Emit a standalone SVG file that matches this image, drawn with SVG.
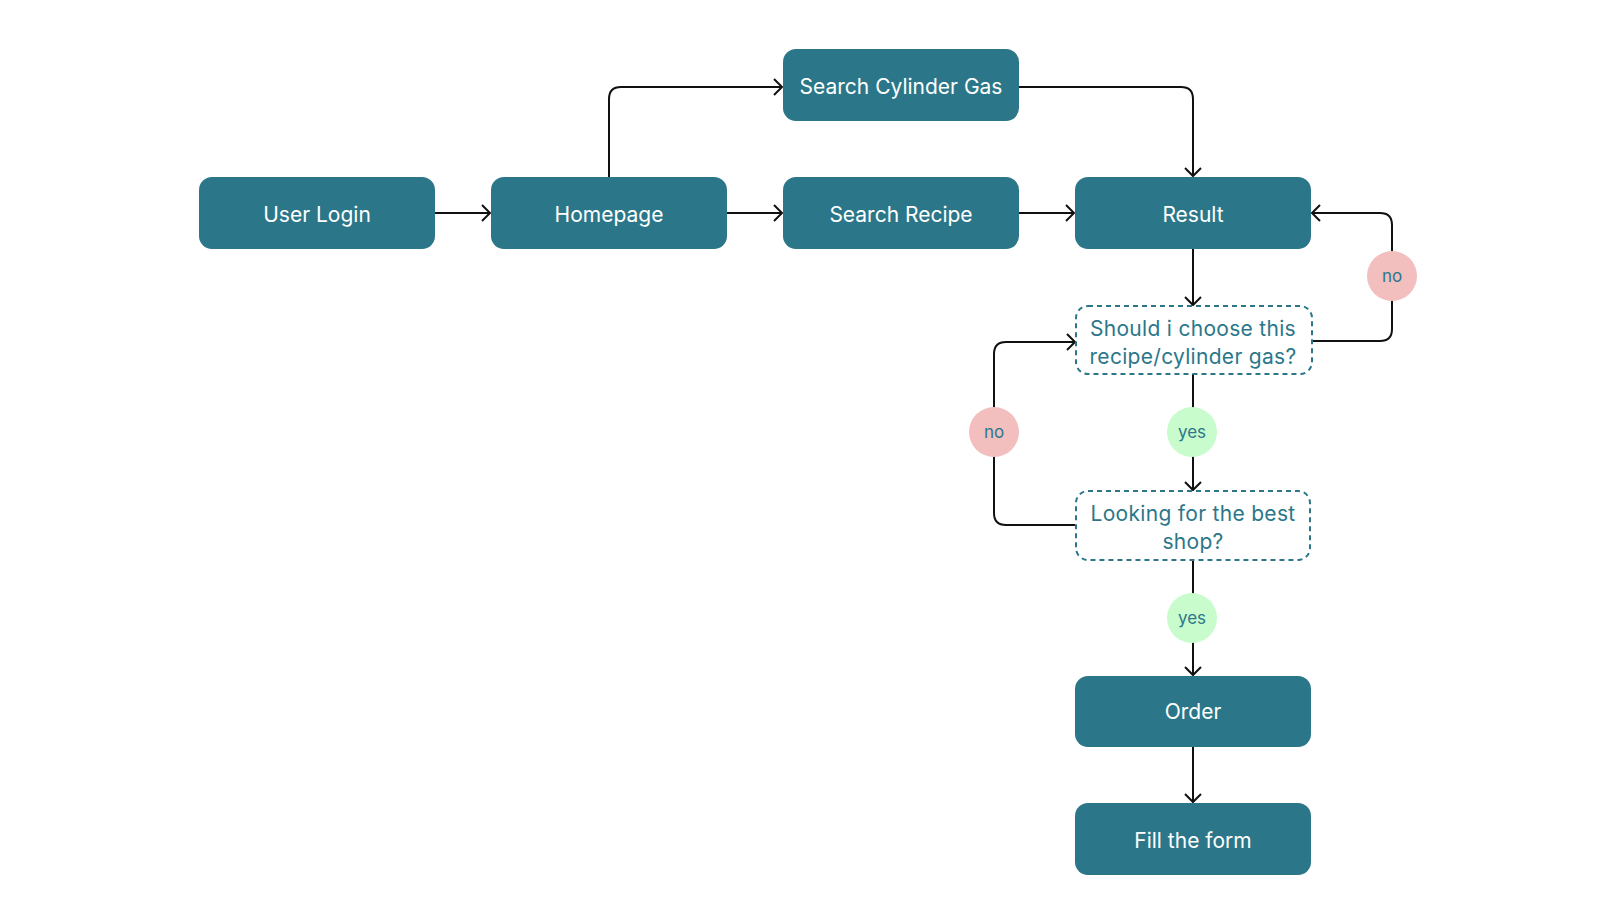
<svg xmlns="http://www.w3.org/2000/svg" width="1616" height="923" viewBox="0 0 1616 923">
<defs>
<marker id="arr" markerUnits="userSpaceOnUse" viewBox="-10 -10 12 20" refX="0" refY="0" markerWidth="12" markerHeight="20" orient="auto">
<path d="M-8,-8 L0,0 L-8,8" fill="none" stroke="#111" stroke-width="2" stroke-linejoin="miter"/>
</marker>
</defs>
<style>
.box{fill:#2B7789;}
.btxt{fill:#ffffff;font-family:Inter,"Liberation Sans",sans-serif;font-size:21px;text-anchor:middle;dominant-baseline:central;}
.dec{fill:#ffffff;stroke:#2B7789;stroke-width:2;stroke-dasharray:5 4;}
.dtxt{fill:#2B7789;font-family:Inter,"Liberation Sans",sans-serif;font-size:21px;letter-spacing:0.3px;text-anchor:middle;dominant-baseline:central;}
.ltxt{fill:#2B7789;font-family:Inter,"Liberation Sans",sans-serif;font-size:17px;text-anchor:middle;dominant-baseline:central;}
.no{fill:#F2BEBE;}
.yes{fill:#C9FCCC;}
.c{fill:none;stroke:#111;stroke-width:2;}
</style>
<rect width="1616" height="923" fill="#ffffff"/>
<g id="connectors">
<path class="c" d="M435,213 H490" marker-end="url(#arr)"/>
<path class="c" d="M727,213 H782" marker-end="url(#arr)"/>
<path class="c" d="M1019,213 H1074" marker-end="url(#arr)"/>
<path class="c" d="M609,177 V99 Q609,87 621,87 H782" marker-end="url(#arr)"/>
<path class="c" d="M1019,87 H1181 Q1193,87 1193,99 V176" marker-end="url(#arr)"/>
<path class="c" d="M1193,249 V305" marker-end="url(#arr)"/>
<path class="c" d="M1312,341 H1380 Q1392,341 1392,329 V225 Q1392,213 1380,213 H1312" marker-end="url(#arr)"/>
<path class="c" d="M1193,374 V490" marker-end="url(#arr)"/>
<path class="c" d="M1075,525 H1006 Q994,525 994,513 V354 Q994,342 1006,342 H1075" marker-end="url(#arr)"/>
<path class="c" d="M1193,560 V675" marker-end="url(#arr)"/>
<path class="c" d="M1193,747 V802" marker-end="url(#arr)"/>
</g>
<g id="user-login"><rect class="box" x="199" y="177" width="236" height="72" rx="13"/><text class="btxt" x="317" y="214">User Login</text></g>
<g id="homepage"><rect class="box" x="491" y="177" width="236" height="72" rx="13"/><text class="btxt" x="609" y="214">Homepage</text></g>
<g id="search-recipe"><rect class="box" x="783" y="177" width="236" height="72" rx="13"/><text class="btxt" x="901" y="214">Search Recipe</text></g>
<g id="search-cylinder-gas"><rect class="box" x="783" y="49" width="236" height="72" rx="13"/><text class="btxt" x="901" y="86">Search Cylinder Gas</text></g>
<g id="result"><rect class="box" x="1075" y="177" width="236" height="72" rx="13"/><text class="btxt" x="1193" y="214">Result</text></g>
<g id="decision-choose"><rect class="dec" x="1076" y="306" width="236" height="68" rx="12"/><text class="dtxt" x="1193" y="328">Should i choose this</text><text class="dtxt" x="1193" y="356">recipe/cylinder gas?</text></g>
<g id="decision-shop"><rect class="dec" x="1076" y="491" width="234" height="69" rx="12"/><text class="dtxt" x="1193" y="513">Looking for the best</text><text class="dtxt" x="1193" y="541">shop?</text></g>
<g id="order"><rect class="box" x="1075" y="676" width="236" height="71" rx="13"/><text class="btxt" x="1193" y="711">Order</text></g>
<g id="fill-form"><rect class="box" x="1075" y="803" width="236" height="72" rx="13"/><text class="btxt" x="1193" y="840">Fill the form</text></g>
<g id="label-no-right"><circle class="no" cx="1392" cy="276" r="25"/><text class="ltxt" x="1392" y="276">no</text></g>
<g id="label-no-left"><circle class="no" cx="994" cy="432" r="25"/><text class="ltxt" x="994" y="432">no</text></g>
<g id="label-yes-1"><circle class="yes" cx="1192" cy="432" r="25"/><text class="ltxt" x="1192" y="432">yes</text></g>
<g id="label-yes-2"><circle class="yes" cx="1192" cy="618" r="25"/><text class="ltxt" x="1192" y="618">yes</text></g>
</svg>
